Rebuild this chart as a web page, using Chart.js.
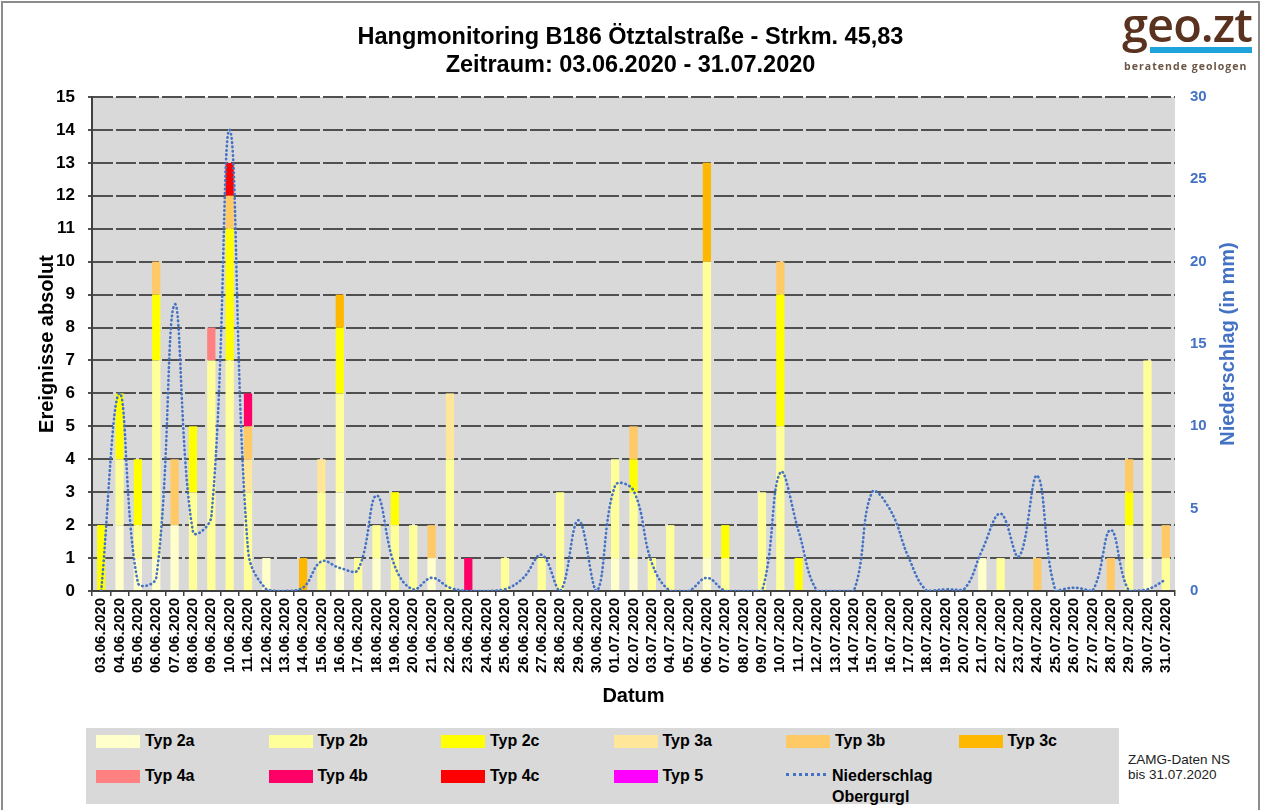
<!DOCTYPE html>
<html lang="de">
<head>
<meta charset="utf-8">
<title>Hangmonitoring B186 Ötztalstraße</title>
<script src="https://cdn.jsdelivr.net/npm/chart.js@4.4.0/dist/chart.umd.min.js"></script>
<style>
    html, body { margin: 0; padding: 0; background: #fff; }
    #wrap { position: relative; width: 1261px; height: 810px; overflow: hidden; font-family: 'Liberation Sans', Arial, sans-serif; }
    #frame { position: absolute; left: 1px; top: 1px; width: 1255px; height: 820px; border: 2px solid #8c8c8c; pointer-events: none; }
    #chart { position: absolute; left: 0; top: 0; }
    #legend { position: absolute; left: 86px; top: 728px; width: 1033px; height: 76px; background: #d9d9d9; }
    .item { position: absolute; font-weight: bold; font-size: 16px; line-height: 18px; color: #000; white-space: nowrap; }
    .item .sw { position: absolute; left: 0; top: 3px; width: 44px; height: 13px; }
    .item .txt { position: absolute; left: 49px; top: 0; }
    .item .dots { position: absolute; left: 0; top: 8px; width: 40px; height: 0; border-top: 3px dotted #4472c4; }
    .item .txt2 { position: absolute; left: 46px; top: 0; line-height: 21px; }
    #zamg { position: absolute; left: 1128px; top: 752px; font-size: 13.5px; line-height: 15px; color: #222; }
    #logo { position: absolute; left: 1122px; top: 0; width: 134px; height: 80px; }
    #logo .geo { position: absolute; left: 0; top: -8px; font-family: 'Open Sans', sans-serif; font-size: 47px; font-weight: 600; color: #5a3320; letter-spacing: -1px; }
    #logo .bar { position: absolute; left: 28px; top: 47px; width: 102px; height: 6px; background: #1fa3dd; }
    #logo .sub { position: absolute; left: 2px; top: 59px; font-family: 'Open Sans', sans-serif; font-size: 10.5px; font-weight: bold; letter-spacing: 1.05px; color: #6b5546; }
</style>
</head>
<body>
<div id="wrap">
    <canvas id="chart" width="1261" height="715"></canvas>
    <div id="legend"></div>
    <div id="zamg">ZAMG-Daten NS<br>bis 31.07.2020</div>
    <div id="logo">
        <div class="geo">geo.zt</div>
        <div class="bar"></div>
        <div class="sub">beratende geologen</div>
    </div>
    <div id="frame"></div>
</div>
<script>
// Kategorien (Datum)
const dates = [
    '03.06.2020', '04.06.2020', '05.06.2020', '06.06.2020', '07.06.2020', '08.06.2020', '09.06.2020', '10.06.2020', '11.06.2020', '12.06.2020',
    '13.06.2020', '14.06.2020', '15.06.2020', '16.06.2020', '17.06.2020', '18.06.2020', '19.06.2020', '20.06.2020', '21.06.2020', '22.06.2020',
    '23.06.2020', '24.06.2020', '25.06.2020', '26.06.2020', '27.06.2020', '28.06.2020', '29.06.2020', '30.06.2020', '01.07.2020', '02.07.2020',
    '03.07.2020', '04.07.2020', '05.07.2020', '06.07.2020', '07.07.2020', '08.07.2020', '09.07.2020', '10.07.2020', '11.07.2020', '12.07.2020',
    '13.07.2020', '14.07.2020', '15.07.2020', '16.07.2020', '17.07.2020', '18.07.2020', '19.07.2020', '20.07.2020', '21.07.2020', '22.07.2020',
    '23.07.2020', '24.07.2020', '25.07.2020', '26.07.2020', '27.07.2020', '28.07.2020', '29.07.2020', '30.07.2020', '31.07.2020'
];

// Ereignisse je Typ (gestapelt)
const typ2a = [0,2,1,1,2,0,0,0,0,1, 0,0,0,3,0,1,0,0,1,0, 0,0,0,0,0,0,0,0,1,1, 0,0,0,1,0,0,0,0,0,0, 0,0,0,0,0,0,0,0,1,0, 0,0,0,0,0,0,0,1,0];
const typ2b = [0,2,1,6,0,3,7,7,3,0, 0,0,3,3,1,1,2,2,0,4, 0,0,1,0,1,3,0,0,3,2, 1,2,0,9,1,0,3,5,0,0, 0,0,0,0,0,0,0,0,0,1, 0,0,0,0,0,0,2,6,1];
const typ2c = [2,2,2,2,0,2,0,4,0,0, 0,0,0,2,0,0,1,0,0,0, 0,0,0,0,0,0,0,0,0,1, 0,0,0,0,1,0,0,4,1,0, 0,0,0,0,0,0,0,0,0,0, 0,0,0,0,0,0,1,0,0];
const typ3a = [0,0,0,0,0,0,0,0,1,0, 0,0,1,0,0,0,0,0,0,2, 0,0,0,0,0,0,0,0,0,0, 0,0,0,0,0,0,0,0,0,0, 0,0,0,0,0,0,0,0,0,0, 0,0,0,0,0,0,0,0,0];
const typ3b = [0,0,0,1,2,0,0,1,1,0, 0,0,0,0,0,0,0,0,1,0, 0,0,0,0,0,0,0,0,0,1, 0,0,0,0,0,0,0,1,0,0, 0,0,0,0,0,0,0,0,0,0, 0,1,0,0,0,1,1,0,1];
const typ3c = [0,0,0,0,0,0,0,0,0,0, 0,1,0,1,0,0,0,0,0,0, 0,0,0,0,0,0,0,0,0,0, 0,0,0,3,0,0,0,0,0,0, 0,0,0,0,0,0,0,0,0,0, 0,0,0,0,0,0,0,0,0];
const typ4a = [0,0,0,0,0,0,1,0,0,0, 0,0,0,0,0,0,0,0,0,0, 0,0,0,0,0,0,0,0,0,0, 0,0,0,0,0,0,0,0,0,0, 0,0,0,0,0,0,0,0,0,0, 0,0,0,0,0,0,0,0,0];
const typ4b = [0,0,0,0,0,0,0,0,1,0, 0,0,0,0,0,0,0,0,0,0, 1,0,0,0,0,0,0,0,0,0, 0,0,0,0,0,0,0,0,0,0, 0,0,0,0,0,0,0,0,0,0, 0,0,0,0,0,0,0,0,0];
const typ4c = [0,0,0,0,0,0,0,1,0,0, 0,0,0,0,0,0,0,0,0,0, 0,0,0,0,0,0,0,0,0,0, 0,0,0,0,0,0,0,0,0,0, 0,0,0,0,0,0,0,0,0,0, 0,0,0,0,0,0,0,0,0];
const typ5  = [0,0,0,0,0,0,0,0,0,0, 0,0,0,0,0,0,0,0,0,0, 0,0,0,0,0,0,0,0,0,0, 0,0,0,0,0,0,0,0,0,0, 0,0,0,0,0,0,0,0,0,0, 0,0,0,0,0,0,0,0,0];

// Niederschlag Obergurgl in mm
const niederschlag = [
    0, 12, 0.5, 0.8, 17.4, 3.6, 4.5, 28, 2.5, 0.1,
    0, 0.2, 1.8, 1.4, 1.3, 5.8, 1.5, 0.1, 0.8, 0.2,
    0, 0, 0.1, 0.8, 2.2, 0, 4.3, 0, 6.4, 6.1,
    1.7, 0, 0, 0.8, 0, 0, 0, 7.2, 3.6, 0,
    0, 0, 6.0, 4.9, 2.0, 0, 0.1, 0.1, 2.5, 4.7,
    2.1, 7.0, 0, 0.2, 0, 3.7, 0, 0.1, 0.7
];

const typNames = ['Typ 2a', 'Typ 2b', 'Typ 2c', 'Typ 3a', 'Typ 3b', 'Typ 3c', 'Typ 4a', 'Typ 4b', 'Typ 4c', 'Typ 5'];
const typColors = ['#ffffcc', '#ffff99', '#ffff00', '#ffe699', '#ffc966', '#ffb800', '#ff8080', '#ff0066', '#ff0000', '#ff00ff'];
const typData = [typ2a, typ2b, typ2c, typ3a, typ3b, typ3c, typ4a, typ4b, typ4c, typ5];

const leftTicks = { min: 0, max: 15, step: 1 };
const rightTicks = { min: 0, max: 30, step: 5 };

const FONT = "'Liberation Sans', Arial, sans-serif";
const BLUE = '#4472c4';
Chart.defaults.font.family = FONT;

// Hintergrund der Zeichenfläche
const plotBackground = {
    id: 'plotBackground',
    beforeDraw(chart) {
        const { ctx, chartArea: a } = chart;
        ctx.save();
        ctx.fillStyle = '#d9d9d9';
        ctx.fillRect(a.left, a.top, a.right - a.left, a.bottom - a.top);
        ctx.restore();
    }
};

// rechter Achsentitel (von unten nach oben gelesen)
const rightTitle = {
    id: 'rightTitle',
    afterDraw(chart) {
        const { ctx, chartArea: a } = chart;
        ctx.save();
        ctx.translate(a.right + 53, (a.top + a.bottom) / 2);
        ctx.rotate(-Math.PI / 2);
        ctx.font = 'bold 20px ' + FONT;
        ctx.fillStyle = BLUE;
        ctx.textAlign = 'center';
        ctx.textBaseline = 'middle';
        ctx.fillText('Niederschlag (in mm)', 0, 0);
        ctx.restore();
    }
};

const datasets = [{
    type: 'line',
    label: 'Niederschlag Obergurgl',
    data: niederschlag,
    yAxisID: 'y2',
    order: 0,
    borderColor: BLUE,
    borderWidth: 2.6,
    borderDash: [0.5, 3.8],
    borderCapStyle: 'round',
    pointRadius: 0,
    tension: 0.4,
    fill: false
}];

typNames.forEach((name, i) => {
    datasets.push({
        type: 'bar',
        label: name,
        data: typData[i],
        yAxisID: 'y',
        order: 1,
        backgroundColor: typColors[i],
        borderWidth: 0,
        barPercentage: 0.45,
        categoryPercentage: 1.0
    });
});

new Chart(document.getElementById('chart').getContext('2d'), {
    type: 'bar',
    data: { labels: dates, datasets: datasets },
    options: {
        responsive: false,
        animation: false,
        layout: { padding: 0 },
        plugins: {
            legend: { display: false },
            tooltip: { enabled: false },
            title: {
                display: true,
                text: ['Hangmonitoring B186 Ötztalstraße - Strkm. 45,83', 'Zeitraum: 03.06.2020 - 31.07.2020'],
                color: '#000',
                font: { size: 23.5, weight: 'bold', lineHeight: 1.17 },
                padding: { top: 24, bottom: 18 }
            }
        },
        scales: {
            x: {
                stacked: true,
                offset: true,
                grid: { display: true, drawOnChartArea: false, offset: true, color: '#404040', lineWidth: 1.5, tickLength: 5 },
                border: { color: '#404040', width: 2 },
                ticks: {
                    autoSkip: false, maxRotation: 90, minRotation: 90, padding: 2,
                    color: '#000', font: { size: 15, weight: 'bold' }
                },
                title: { display: true, text: 'Datum', color: '#000', font: { size: 20, weight: 'bold' }, padding: { top: 0, bottom: 7 } },
                afterFit(s) { s.height = 124; }
            },
            y: {
                stacked: true,
                position: 'left',
                min: leftTicks.min,
                max: leftTicks.max,
                ticks: { stepSize: leftTicks.step, padding: 13, color: '#000', font: { size: 17, weight: 'bold' } },
                grid: { color: '#505050', lineWidth: 2, tickLength: 4, tickBorderDash: [] },
                border: { display: true, dash: [20, 3], color: '#404040', width: 2 },
                title: { display: true, text: 'Ereignisse absolut', color: '#000', font: { size: 20, weight: 'bold' }, padding: { top: 35, bottom: 0 } },
                afterFit(s) { s.width = 92; }
            },
            y2: {
                position: 'right',
                min: rightTicks.min,
                max: rightTicks.max,
                ticks: { stepSize: rightTicks.step, padding: 15, color: BLUE, font: { size: 15, weight: 'bold' } },
                grid: { display: false, drawTicks: false },
                border: { display: false },
                afterFit(s) { s.width = 86; }
            }
        }
    },
    plugins: [plotBackground, rightTitle]
});

// Legende unten
const legend = document.getElementById('legend');
typNames.forEach((name, i) => {
    const col = i % 6, row = Math.floor(i / 6);
    const el = document.createElement('div');
    el.className = 'item';
    el.style.left = (10 + col * 172.5) + 'px';
    el.style.top = (4 + row * 35) + 'px';
    el.innerHTML = '<span class="sw" style="background:' + typColors[i] + '"></span><span class="txt">' + name + '</span>';
    legend.appendChild(el);
});
const lineItem = document.createElement('div');
lineItem.className = 'item';
lineItem.style.left = (10 + 4 * 172.5) + 'px';
lineItem.style.top = '37px';
lineItem.innerHTML = '<span class="dots"></span><span class="txt2">Niederschlag<br>Obergurgl</span>';
legend.appendChild(lineItem);
</script>
</body>
</html>
